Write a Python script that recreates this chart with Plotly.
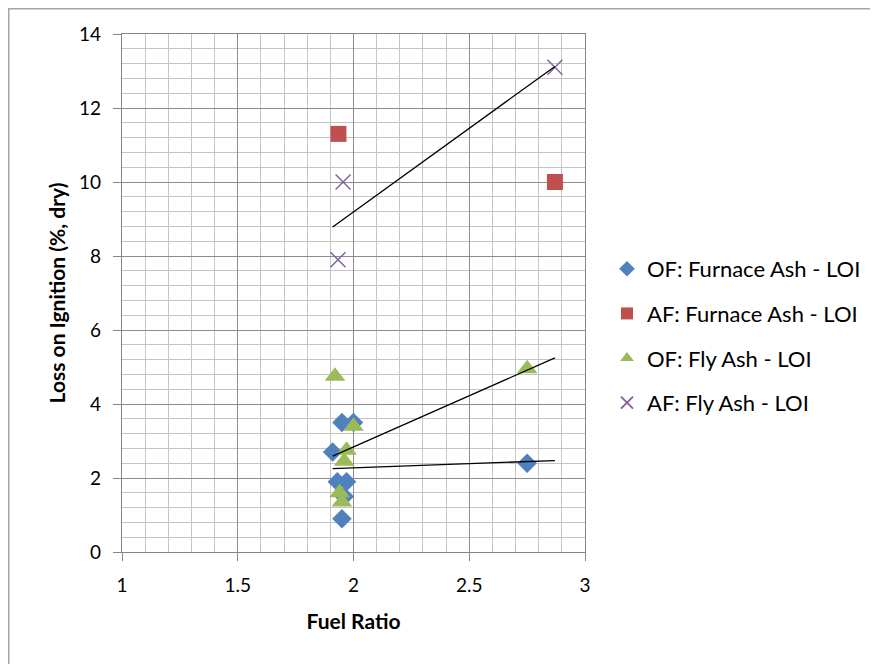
import numpy as np
import plotly.graph_objects as go

# ---- data ----
of_furnace_x = [1.95, 2.00, 1.91, 1.93, 1.97, 1.96, 1.95, 2.75]
of_furnace_y = [3.5, 3.5, 2.7, 1.9, 1.9, 1.5, 0.9, 2.4]
af_furnace_x = [1.935, 2.87]
af_furnace_y = [11.3, 10.0]
of_fly_x = [1.92, 2.75, 2.00, 1.97, 1.96, 1.94, 1.95]
of_fly_y = [4.75, 4.95, 3.4, 2.75, 2.45, 1.6, 1.35]
af_fly_x = [1.933, 1.955, 2.87]
af_fly_y = [7.9, 10.0, 13.1]

x_ticks = [1, 1.5, 2, 2.5, 3]
y_ticks = [0, 2, 4, 6, 8, 10, 12, 14]

FONT = "Lato"
W, H = 870, 656
L, R, T, B = 114, 577, 26, 544

fig = go.Figure()

series = [
    ("OF: Furnace Ash - LOI", of_furnace_x, of_furnace_y,
     dict(symbol="diamond", size=15, color="#4F81BD"), True),
    ("AF: Furnace Ash - LOI", af_furnace_x, af_furnace_y,
     dict(symbol="square", size=16, color="#C0504D"), False),
    ("OF: Fly Ash - LOI", of_fly_x, of_fly_y,
     dict(symbol="triangle-up", size=18, color="#9BBB59"), True),
    ("AF: Fly Ash - LOI", af_fly_x, af_fly_y,
     dict(symbol="x-thin-open", size=15, color="#8064A2",
          line=dict(width=1.5, color="#8064A2")), True),
]

all_x = of_furnace_x + af_furnace_x + of_fly_x + af_fly_x
x_lo, x_hi = min(all_x), max(all_x)

for i, (name, xs, ys, mk, trend) in enumerate(series):
    fig.add_trace(go.Scatter(x=xs, y=ys, mode="markers", name=name, marker=mk,
                             legendgroup=f"g{i}"))

for i, (name, xs, ys, mk, trend) in enumerate(series):
    if trend:
        m, c = np.polyfit(xs, ys, 1)
        tx = np.array([x_lo, x_hi])
        fig.add_trace(go.Scatter(x=tx, y=m * tx + c, mode="lines",
                                 line=dict(color="#000000", width=1.3),
                                 showlegend=False, hoverinfo="skip"))

axis_common = dict(
    showline=True, linecolor="#868686", linewidth=1.3, mirror=True,
    ticks="outside", ticklen=8, tickcolor="#868686", tickwidth=1.3,
    ticklabelstandoff=8,
    showgrid=True, gridcolor="#8c8c8c", gridwidth=1.2,
    zeroline=False,
    tickfont=dict(family=FONT, size=19, color="#000000"),
)

fig.update_xaxes(
    range=[1, 3], tickvals=x_ticks, ticktext=[str(v) for v in x_ticks],
    minor=dict(dtick=0.1, tick0=1, showgrid=True, gridcolor="#c4c4c4", gridwidth=1.3, ticks=""),
    title=dict(text="<b>Fuel Ratio</b>", font=dict(family=FONT, size=21, color="#000000"), standoff=19),
    **axis_common,
)
fig.update_yaxes(
    range=[0, 14], tickvals=y_ticks, ticktext=[str(v) for v in y_ticks],
    minor=dict(dtick=0.4, tick0=0, showgrid=True, gridcolor="#c4c4c4", gridwidth=1.3, ticks=""),
    title=dict(text="<b>Loss on Ignition (%, dry)</b>", font=dict(family=FONT, size=21, color="#000000"), standoff=7),
    **axis_common,
)

fig.update_layout(
    width=W, height=H,
    margin=dict(l=L, r=W - R, t=T, b=H - B, autoexpand=False),
    paper_bgcolor="#ffffff", plot_bgcolor="#ffffff",
    font=dict(family=FONT, size=19, color="#000000"),
    showlegend=True,
    legend=dict(x=(599 - L) / (R - L), y=(B - 240) / (B - T), xanchor="left", yanchor="top",
                font=dict(family=FONT, size=22, color="#000000"),
                traceorder="grouped", tracegroupgap=13, itemsizing="constant",
                bgcolor="rgba(0,0,0,0)"),
    shapes=[dict(type="rect", xref="paper", yref="paper",
                 x0=(0.5 - L) / (R - L), x1=(900 - L) / (R - L),
                 y0=(B - 700) / (B - T), y1=(B - 0.5) / (B - T),
                 line=dict(color="#a6a6a6", width=2), fillcolor="rgba(0,0,0,0)", layer="below")],
)

fig.write_html("out.html")
